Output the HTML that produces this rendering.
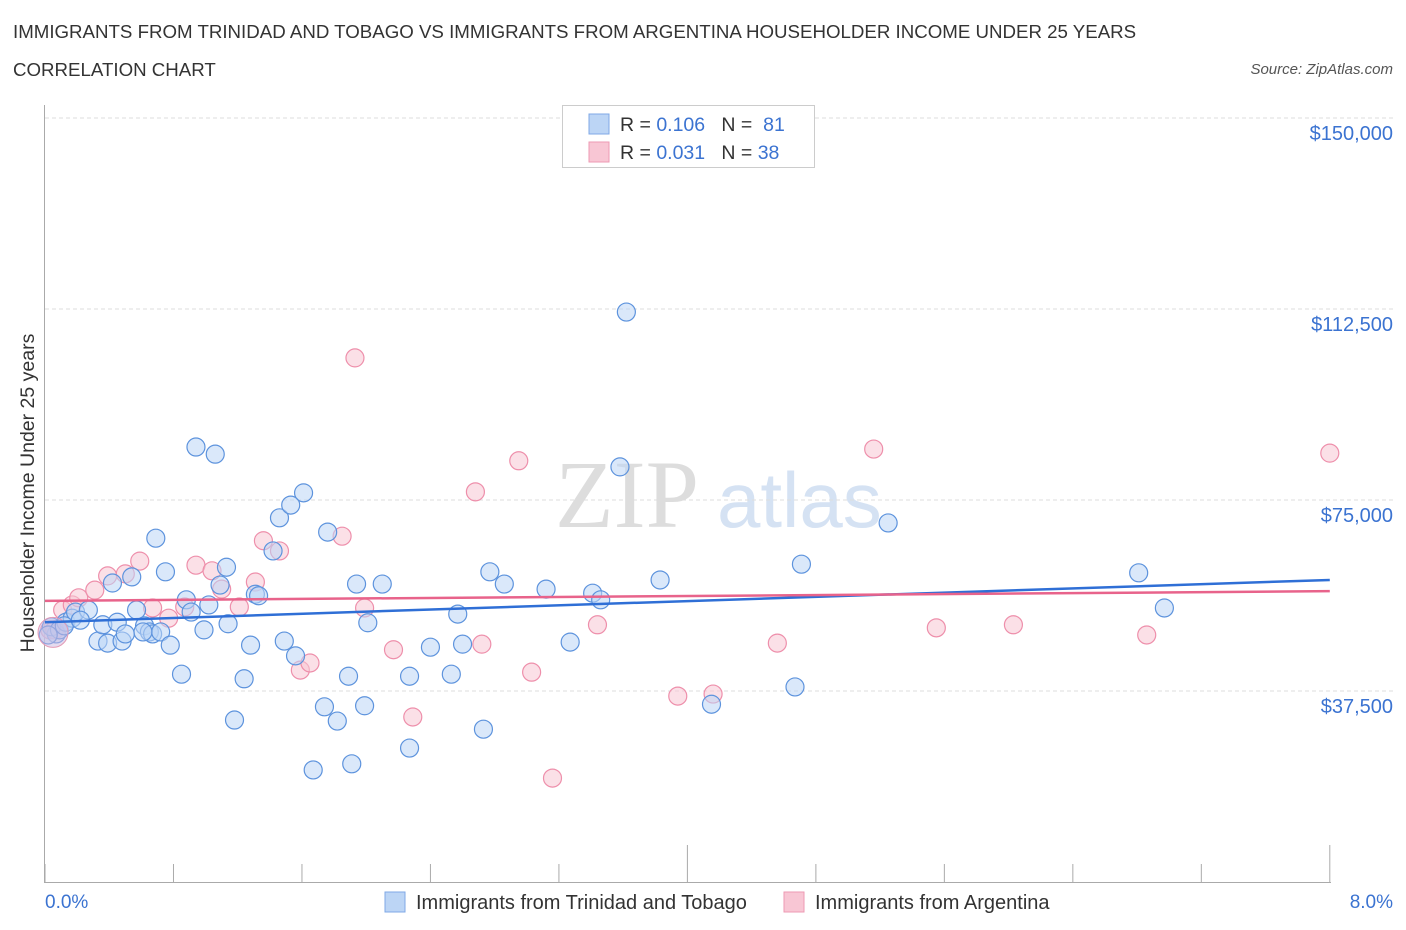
<!DOCTYPE html>
<html><head><meta charset="utf-8"><style>
body{margin:0;background:#fff;font-family:"Liberation Sans",sans-serif;}
#wrap{position:relative;width:1406px;height:930px;overflow:hidden;}
.t{position:absolute;white-space:nowrap;}
</style></head><body>
<div id="wrap">
<div class="t" style="left:13px;top:21px;font-size:18.7px;color:#333;">IMMIGRANTS FROM TRINIDAD AND TOBAGO VS IMMIGRANTS FROM ARGENTINA HOUSEHOLDER INCOME UNDER 25 YEARS</div>
<div class="t" style="left:13px;top:59px;font-size:18.7px;color:#333;">CORRELATION CHART</div>
<div class="t" style="right:13px;top:61px;font-size:15px;color:#555;font-style:italic;">Source: ZipAtlas.com</div>
<svg id="chart" width="1406" height="930" style="position:absolute;left:0;top:0"></svg>
</div>
<script>
const blueX=[0.07,0.04,0.09,0.13,0.17,0.19,0.27,0.33,0.36,0.39,0.42,0.45,0.48,0.50,0.54,0.57,0.62,0.65,0.67,0.69,0.72,0.75,0.78,0.85,0.88,0.91,0.94,0.99,1.02,1.06,1.09,1.13,1.14,1.18,1.24,1.28,1.31,1.33,1.42,1.46,1.49,1.53,1.56,1.61,1.74,1.76,1.82,1.89,1.91,1.94,1.99,2.01,2.10,2.27,2.27,2.40,2.53,2.57,2.60,2.73,2.77,2.86,3.12,3.27,3.41,3.46,3.58,3.62,3.83,4.15,4.67,4.71,5.25,6.81,6.97,1.67,0.02,0.12,0.22,0.61];
const blueY=[48700,50100,49500,51000,51800,53000,53400,47300,50500,46900,58700,51000,47300,48700,59900,53400,50300,49100,48700,67500,49100,60900,46500,40800,55400,53000,85400,49500,54400,84000,58300,61800,50700,31800,39900,46500,56500,56200,65000,71500,47300,74000,44400,76400,34400,68700,31600,40400,23200,58500,34600,50900,58500,40400,26300,46100,40800,52600,46700,30000,60900,58500,57500,47100,56700,55400,81500,111900,59300,34900,38300,62400,70500,60700,53800,22000,48500,50300,51400,49100];
const pinkX=[0.03,0.06,0.11,0.17,0.21,0.31,0.39,0.50,0.59,0.67,0.77,0.87,0.94,1.04,1.10,1.21,1.31,1.36,1.46,1.59,1.65,1.85,1.93,1.99,2.17,2.29,2.68,2.72,2.95,3.03,3.16,3.44,3.94,4.16,4.56,5.16,5.55,6.03,6.86,8.00];
const pinkY=[49500,49500,53400,54400,55800,57300,60100,60500,63000,53800,51800,54000,62200,61100,57500,54000,58900,67000,65000,41600,43000,67900,102900,53800,45600,32400,76600,46700,82700,41200,20400,50500,36500,36900,46900,85000,49900,50500,48500,84200];
const blueTrend=[51000,59300];
const pinkTrend=[55200,57100];
const yTicks=[37500,75000,112500,150000];
const yTickLabels=["$37,500","$75,000","$112,500","$150,000"];
const xTicks=[0,0.8,1.6,2.4,3.2,4.0,4.8,5.6,6.4,7.2,8.0];

const X=v=>45+v*160.6;
const Y=v=>882-v/37500*191;
const svg=document.getElementById('chart');
const NS='http://www.w3.org/2000/svg';
function mk(tag,attrs,parent){const e=document.createElementNS(NS,tag);for(const k in attrs)e.setAttribute(k,attrs[k]);(parent||svg).appendChild(e);return e;}

let wm=mk('text',{x:555,y:527,'font-size':96,'font-family':'Liberation Serif, serif',fill:'#ddd'});wm.textContent='ZIP';

let wm2=mk('text',{x:717,y:527,'font-size':78,'font-family':'Liberation Sans, sans-serif',fill:'#d5e2f3'});wm2.textContent='atlas';


yTicks.forEach((v,i)=>{
 const g=mk('line',{x1:45,x2:1393,y1:Y(v),y2:Y(v),stroke:'#ddd','stroke-dasharray':'4,3'});
 
 const t=mk('text',{x:1393,y:Y(v)+22,'text-anchor':'end','font-size':20,fill:'#3b73d1'});t.textContent=yTickLabels[i];
 
});
let ax=mk('line',{x1:44.5,x2:44.5,y1:105,y2:882,stroke:'#aaa'});
let bx=mk('line',{x1:44,x2:1331,y1:882.5,y2:882.5,stroke:'#aaa'});
xTicks.forEach((v,i)=>{
 const tk=mk('line',{x1:X(v),x2:X(v),y1:(i==5||i==10)?845:864,y2:882,stroke:'#aaa'});
 
});
function pts(xs,ys,fill,stroke,name){
 xs.forEach((x,i)=>{
  const c=mk('circle',{cx:X(x),cy:Y(ys[i]),r:9,fill:fill,'fill-opacity':0.55,stroke:stroke,'stroke-width':1.2});
  
 });
}
pts(pinkX,pinkY,'#f8c6d4','#ee8fab','point-argentina');
pts(blueX,blueY,'#bcd5f5','#5d93dd','point-trinidad');
let bc=mk('circle',{cx:X(0.05),cy:Y(49000),r:15,fill:'#c9b8e0','fill-opacity':0.5,stroke:'#e49ab5'});
let tb=mk('line',{x1:X(0),x2:X(8),y1:Y(blueTrend[0]),y2:Y(blueTrend[1]),stroke:'#2f6fd6','stroke-width':2.5});
let tp=mk('line',{x1:X(0),x2:X(8),y1:Y(pinkTrend[0]),y2:Y(pinkTrend[1]),stroke:'#e8638b','stroke-width':2.5});
let x0=mk('text',{x:45,y:908,'font-size':19,fill:'#3b73d1'});x0.textContent='0.0%';
let x8=mk('text',{x:1393,y:908,'text-anchor':'end','font-size':19,fill:'#3b73d1'});x8.textContent='8.0%';
let yt=mk('text',{x:0,y:0,transform:'translate(34,493) rotate(-90)','text-anchor':'middle','font-size':19.5,fill:'#333'});yt.textContent='Householder Income Under 25 years';

let lg=mk('rect',{x:562.5,y:105.5,width:252,height:62,fill:'#fff',stroke:'#ccc'});
[[0,'#bcd5f5','#7fa8e6','0.106','81'],[1,'#f8c6d4','#ee9ab3','0.031','38']].forEach(r=>{
 const y=114+r[0]*28;
 const s=mk('rect',{x:589,y:y,width:20,height:20,fill:r[1],stroke:r[2]});
 const t=mk('text',{x:620,y:y+17,'font-size':19.5,fill:'#333'});
 t.innerHTML='R = <tspan fill="#3b73d1">'+r[3]+'</tspan>&#160;&#160;&#160;N = <tspan fill="#3b73d1">'+(r[4]=='81'?'&#160;81':r[4])+'</tspan>';
 
});
[[384,'#bcd5f5','#7fa8e6','Immigrants from Trinidad and Tobago','legend-entry-trinidad'],[783,'#f8c6d4','#ee9ab3','Immigrants from Argentina','legend-entry-argentina']].forEach(r=>{
 const s=mk('rect',{x:r[0]+1,y:892,width:20,height:20,fill:r[1],stroke:r[2]});
 const t=mk('text',{x:r[0]+32,y:909,'font-size':20,fill:'#333'});t.textContent=r[3];
 
});
</script>
</body></html>
